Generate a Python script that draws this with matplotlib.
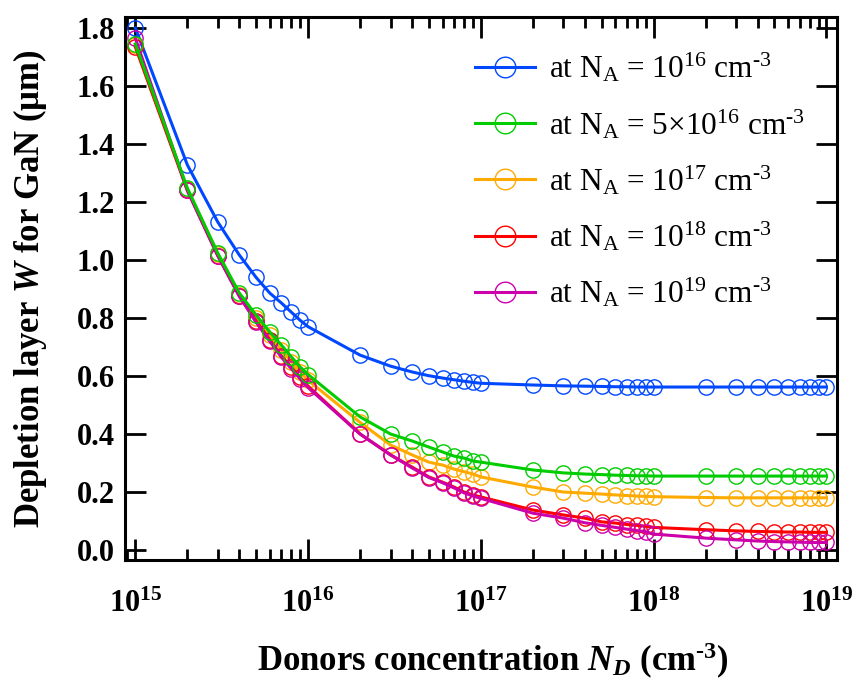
import numpy as np
import matplotlib
matplotlib.use("Agg")
import matplotlib.pyplot as plt
from matplotlib.ticker import FuncFormatter, LogLocator, MultipleLocator

plt.rcParams['font.family'] = 'Liberation Serif'
plt.rcParams['mathtext.fontset'] = 'custom'
plt.rcParams['mathtext.rm'] = 'Liberation Serif'
plt.rcParams['mathtext.it'] = 'Liberation Serif:italic'
plt.rcParams['mathtext.bf'] = 'Liberation Serif:bold'
plt.rcParams['mathtext.bfit'] = 'Liberation Serif:bold:italic'

# donor concentration N_D (cm^-3): 1..9 x 10^n, 10^15 .. 10^19
nd = [m * 10.0**e for e in range(15, 19) for m in range(1, 10)] + [1e19]

# depletion width W (um)
w_1e16 = [1.80, 1.328, 1.131, 1.017, 0.94, 0.886, 0.852, 0.82, 0.792,
          0.77, 0.672, 0.634, 0.614, 0.601, 0.593, 0.587, 0.582, 0.578,
          0.575, 0.569, 0.566, 0.565, 0.564, 0.563, 0.563, 0.562, 0.562,
          0.562, 0.562, 0.562, 0.562, 0.562, 0.562, 0.562, 0.562, 0.562, 0.562]
w_5e16 = [1.745, 1.248, 1.024, 0.886, 0.81, 0.752, 0.707, 0.666, 0.631,
          0.605, 0.459, 0.40, 0.376, 0.355, 0.338, 0.324, 0.317, 0.307,
          0.303, 0.276, 0.266, 0.262, 0.26, 0.258, 0.257, 0.256, 0.256,
          0.255, 0.255, 0.255, 0.255, 0.255, 0.255, 0.255, 0.255, 0.255, 0.255]
w_1e17 = [1.74, 1.245, 1.02, 0.88, 0.80, 0.74, 0.69, 0.65, 0.615,
          0.585, 0.44, 0.362, 0.328, 0.303, 0.293, 0.279, 0.27, 0.262,
          0.252, 0.217, 0.20, 0.196, 0.193, 0.19, 0.188, 0.186, 0.185,
          0.184, 0.181, 0.18, 0.18, 0.18, 0.18, 0.18, 0.18, 0.18, 0.18]
w_1e18 = [1.735, 1.24, 1.015, 0.875, 0.79, 0.725, 0.67, 0.63, 0.595,
          0.565, 0.40, 0.328, 0.286, 0.252, 0.234, 0.217, 0.20, 0.19,
          0.183, 0.138, 0.121, 0.110, 0.097, 0.093, 0.088, 0.085, 0.082,
          0.078, 0.07, 0.066, 0.064, 0.063, 0.062, 0.062, 0.061, 0.061, 0.061]
w_1e19 = [1.765, 1.24, 1.015, 0.875, 0.785, 0.72, 0.665, 0.625, 0.59,
          0.56, 0.40, 0.328, 0.283, 0.25, 0.232, 0.214, 0.197, 0.186,
          0.178, 0.127, 0.11, 0.094, 0.085, 0.078, 0.072, 0.067, 0.063,
          0.055, 0.041, 0.035, 0.031, 0.029, 0.028, 0.027, 0.026, 0.026, 0.026]

hy = '\u2010'
labels = [r'at N$_\mathrm{A}$ = 10$^{16}$ cm$^{%s3}$' % hy,
          r'at N$_\mathrm{A}$ = 5$\times$10$^{16}$ cm$^{%s3}$' % hy,
          r'at N$_\mathrm{A}$ = 10$^{17}$ cm$^{%s3}$' % hy,
          r'at N$_\mathrm{A}$ = 10$^{18}$ cm$^{%s3}$' % hy,
          r'at N$_\mathrm{A}$ = 10$^{19}$ cm$^{%s3}$' % hy]
colors = ['#0048ff', '#00cc00', '#ffaa00', '#ff0000', '#cc00aa']
series = [w_1e16, w_5e16, w_1e17, w_1e18, w_1e19]

fig = plt.figure(figsize=(8.53, 6.79), dpi=100)
ax = fig.add_subplot(111)
fig.subplots_adjust(left=0.1465, right=0.981, top=0.975, bottom=0.175)

handles = [None] * 5
for i in [0, 2, 3, 4, 1]:
    h, = ax.plot(nd, series[i], '-o', color=colors[i], lw=2.2,
                 mfc='none', mec=colors[i], ms=11, mew=1.0, label=labels[i])
    handles[i] = h

ax.set_xscale('log')
ax.set_xlim(10**14.94, 10**19.06)
ax.set_ylim(-0.035, 1.838)
ax.yaxis.set_major_locator(MultipleLocator(0.2))
ax.yaxis.set_major_formatter(FuncFormatter(lambda v, p: '%.1f' % v))
ax.xaxis.set_major_locator(LogLocator(base=10, numticks=10))
ax.xaxis.set_minor_locator(LogLocator(base=10, subs=np.arange(2, 10), numticks=10))
ax.xaxis.set_major_formatter(FuncFormatter(lambda v, p: r'$\mathbf{10^{%d}}$' % round(np.log10(v))))

ax.tick_params(axis='both', which='both', direction='in', top=True, right=True, width=2)
ax.tick_params(axis='both', which='major', length=15)
ax.tick_params(axis='x', which='minor', length=8)
ax.tick_params(axis='x', which='major', pad=21, labelsize=22)
ax.tick_params(axis='y', which='major', pad=7, labelsize=22)
for lab in ax.get_yticklabels():
    lab.set_fontweight('bold')
for s in ax.spines.values():
    s.set_linewidth(2.2)

ax.set_xlabel(r'Donors concentration $\mathbfit{N}_\mathbfit{D}$ (cm$^\mathbf{%s3}$)' % hy,
              fontsize=25, fontweight='bold', va='baseline')
ax.xaxis.set_label_coords(0.517, -0.204)
ax.set_ylabel(r'Depletion layer $\mathbfit{W}$ for GaN ($\mathbf{\mu}$m)',
              fontsize=25, fontweight='bold', labelpad=20)

ax.legend(handles=handles, loc='upper left', bbox_to_anchor=(0.492, 0.937),
          frameon=False, fontsize=22.5, borderpad=0, borderaxespad=0,
          handlelength=1.93, handletextpad=0.42, labelspacing=0.72, markerscale=1.35)

fig.savefig('out.png', dpi=100)
